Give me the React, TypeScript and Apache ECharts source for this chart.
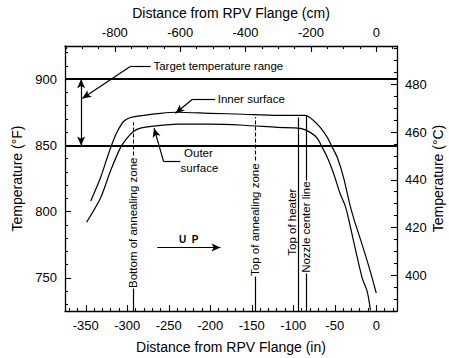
import React, { useEffect, useRef } from 'react';
import * as echarts from 'echarts';

// ---- data ----
const xMinIn = -375;
const xMaxIn = 25;
const yMinF = 725;
const yMaxF = 925;

const inchTicks = [-350, -300, -250, -200, -150, -100, -50, 0];
const cmTicks = [-800, -600, -400, -200, 0];
const fTicks = [750, 800, 850, 900];
const cTicks = [400, 420, 440, 460, 480];

const innerX = [-344, -332, -324, -316.5, -311.5, -304.5, -296, -280, -260, -240, -200, -160, -119, -85.5, -76, -67.5, -59, -53, -47, -39.5, -31.5, -25.5, -19.5, -11, -5, 0];
const innerF = [808, 826, 841, 854, 861, 868, 871, 872.7, 874.2, 875, 874.2, 873.5, 872.7, 872.7, 869, 863.5, 856, 848.5, 841, 826, 804.5, 791.5, 780, 763, 750, 738.5];

const outerX = [-349, -332, -320, -308, -299.5, -292.5, -284, -268, -240, -200, -160, -119, -91.5, -79.5, -71, -65, -59, -51.5, -43.5, -37.5, -33.5, -25.5, -17, -11, -7];
const outerF = [792, 810.5, 831, 848.5, 856, 860.5, 863, 864.5, 866, 866, 865.2, 863.6, 862.9, 859.8, 855.3, 848.5, 841, 829, 813.5, 804.5, 795, 772.7, 750, 740, 725.5];

const targetRange = [850, 900];

const zoneNames = ['Bottom of annealing zone', 'Top of annealing zone', 'Top of heater', 'Nozzle center line'];
const zoneX = [-293, -145.6, -93.9, -84.8];
const zoneTextBaseF = [742.4, 751.5, 766.7, 753.8];
const zoneTextTopF = [842.4, 838.6, null, 823.5];
const zoneLineTopF = [867.5, 871.2, 871.0, 872.7];
const zoneUpperDashed = [true, true, false, false];

const FONT = '"Liberation Sans", Arial, Helvetica, sans-serif';
const BLACK = '#000';

function stepList(from: number, to: number, step: number, skip: number) {
  const out: number[] = [];
  for (let v = from; v <= to + 1e-9; v += step) {
    const r = Math.round(v * 1000) / 1000;
    if (Math.abs(r / skip - Math.round(r / skip)) > 1e-6) out.push(r);
  }
  return out;
}

export default function App() {
  const ref = useRef<HTMLDivElement>(null);
  useEffect(() => {
    document.body.style.margin = '0';
    const chart = echarts.init(ref.current!, null, { renderer: 'svg' });

    const cMin = (yMinF - 32) / 1.8;
    const cMax = (yMaxF - 32) / 1.8;
    const cmMin = xMinIn * 2.54;
    const cmMax = xMaxIn * 2.54;

    const axisLine = { show: true, onZero: false, lineStyle: { color: BLACK, width: 1.3 } };
    const tickStyle = { color: BLACK, width: 1.1 };
    const labelStyle = { color: BLACK, fontSize: 13, fontFamily: FONT };
    const nameStyle = { color: BLACK, fontSize: 14, fontFamily: FONT };

    const mainAxis = (extra: any, ticks: number[], margin: number) => ({
      type: 'value',
      splitLine: { show: false },
      axisLine,
      axisTick: { show: true, inside: true, length: 6, lineStyle: tickStyle, customValues: ticks },
      axisLabel: { ...labelStyle, margin, customValues: ticks },
      nameLocation: 'middle',
      nameTextStyle: nameStyle,
      ...extra,
    });
    const minorAxis = (extra: any, ticks: number[]) => ({
      type: 'value',
      splitLine: { show: false },
      axisLine: { show: false, onZero: false },
      axisLabel: { show: false },
      axisTick: { show: true, inside: true, length: 3, lineStyle: tickStyle, customValues: ticks },
      ...extra,
    });

    const inchMinor = stepList(-370, 20, 10, 50);
    const cmMinor = stepList(-950, 50, 50, 200);
    const fMinor = stepList(730, 920, 10, 50);
    const cMinor = stepList(390, 495, 5, 20);

    const zoneSolid: any[] = [];
    const zoneDashed: any[] = [];
    zoneX.forEach((x, i) => {
      const base = zoneTextBaseF[i];
      const top = zoneTextTopF[i];
      if (top === null) {
        zoneSolid.push([{ coord: [x, yMinF] }, { coord: [x, zoneLineTopF[i]] }]);
      } else {
        zoneSolid.push([{ coord: [x, yMinF] }, { coord: [x, base - 0.5] }]);
        const seg = [{ coord: [x, top] }, { coord: [x, zoneLineTopF[i]] }];
        if (zoneUpperDashed[i]) zoneDashed.push(seg);
        else zoneSolid.push(seg);
      }
    });

    const leaderY = 909.8;
    const arrowSeg = (a: number[], b: number[]) => [
      { coord: a, symbol: 'none' },
      { coord: b, symbol: 'arrow' },
    ];
    const plainSeg = (a: number[], b: number[]) => [
      { coord: a, symbol: 'none' },
      { coord: b, symbol: 'none' },
    ];

    const option: any = {
      animation: false,
      grid: { left: 65, right: 52, top: 46, bottom: 47, containLabel: false, outerBoundsMode: 'none' },
      xAxis: [
        mainAxis({ position: 'bottom', min: xMinIn, max: xMaxIn, name: 'Distance from RPV Flange (in)', nameGap: 29 }, inchTicks, 8),
        mainAxis({ position: 'top', min: cmMin, max: cmMax, name: 'Distance from RPV Flange (cm)', nameGap: 26 }, cmTicks, 7),
        minorAxis({ position: 'bottom', min: xMinIn, max: xMaxIn }, inchMinor),
        minorAxis({ position: 'top', min: cmMin, max: cmMax }, cmMinor),
      ],
      yAxis: [
        mainAxis({ position: 'left', min: yMinF, max: yMaxF, name: 'Temperature (°F)', nameGap: 38, nameRotate: 90 }, fTicks, 8),
        mainAxis({ position: 'right', min: cMin, max: cMax, name: 'Temperature (°C)', nameGap: 34, nameRotate: 90, nameMoveOverlap: false }, cTicks, 8),
        minorAxis({ position: 'left', min: yMinF, max: yMaxF }, fMinor),
        minorAxis({ position: 'right', min: cMin, max: cMax }, cMinor),
      ],
      series: [
        {
          name: 'Inner surface',
          type: 'line',
          data: innerX.map((x, i) => [x, innerF[i]]),
          showSymbol: false,
          symbol: 'none',
          smooth: 0.25,
          lineStyle: { color: BLACK, width: 1.2 },
        },
        {
          name: 'Outer surface',
          type: 'line',
          data: outerX.map((x, i) => [x, outerF[i]]),
          showSymbol: false,
          symbol: 'none',
          smooth: 0.25,
          lineStyle: { color: BLACK, width: 1.2 },
        },
        {
          name: 'target',
          type: 'line',
          data: [],
          markLine: {
            silent: true,
            symbol: 'none',
            label: { show: false },
            lineStyle: { color: BLACK, width: 1.8, type: 'solid' },
            data: targetRange.map((v) => ({ yAxis: v })),
          },
        },
        {
          name: 'leaders',
          type: 'line',
          data: [],
          markLine: {
            silent: true,
            symbolSize: [6, 9],
            label: { show: false },
            lineStyle: { color: BLACK, width: 1.2, type: 'solid' },
            data: [
              [
                { coord: [-355.6, targetRange[0]], symbol: 'arrow' },
                { coord: [-355.6, targetRange[1]], symbol: 'arrow' },
              ],
              plainSeg([-272, leaderY], [-296, leaderY]),
              arrowSeg([-296, leaderY], [-354.2, 885.4]),
              plainSeg([-194, 884.8], [-221.4, 884.8]),
              arrowSeg([-221.4, 884.8], [-241.9, 874.3]),
              plainSeg([-236, 837.9], [-256.3, 837.9]),
              arrowSeg([-256.3, 837.9], [-267.7, 863.0]),
              arrowSeg([-263.9, 773.0], [-187.7, 773.0]),
            ],
          },
        },
        {
          name: 'zones',
          type: 'line',
          data: [],
          markLine: {
            silent: true,
            symbol: 'none',
            label: { show: false },
            lineStyle: { color: BLACK, width: 1.2, type: 'solid' },
            data: zoneSolid,
          },
        },
        {
          name: 'zonesDashed',
          type: 'line',
          data: [],
          markLine: {
            silent: true,
            symbol: 'none',
            label: { show: false },
            lineStyle: { color: BLACK, width: 1.1, type: [4, 2] },
            data: zoneDashed,
          },
        },
      ],
    };
    chart.setOption(option);

    const px = (x: number, y: number) =>
      chart.convertToPixel({ xAxisIndex: 0, yAxisIndex: 0 } as any, [x, y]) as number[];
    const txt = (p: number[], text: string, extra: any = {}, rot = 0) => ({
      type: 'text',
      x: p[0],
      y: p[1],
      rotation: rot,
      silent: true,
      style: {
        text,
        fill: BLACK,
        fontSize: 11.5,
        fontFamily: FONT,
        align: 'left',
        verticalAlign: 'middle',
        ...extra,
      },
    });

    const graphics: any[] = [];
    graphics.push(txt(px(-268.4, leaderY), 'Target temperature range'));
    graphics.push(txt(px(-191, 884.8), 'Inner surface'));
    graphics.push(txt(px(-214.2, 843.9), 'Outer', { align: 'center' }));
    graphics.push(txt(px(-213, 832.6), 'surface', { align: 'center' }));
    graphics.push(txt(px(-225.9, 779.3), 'U  P', { align: 'center', fontWeight: 'bold', fontSize: 10 }));
    zoneX.forEach((x, i) => {
      const p = px(x, zoneTextBaseF[i]);
      const shift = zoneTextTopF[i] === null ? -6 : 0;
      graphics.push(txt([p[0] + shift, p[1]], zoneNames[i], {}, Math.PI / 2));
    });
    chart.setOption({ graphic: graphics });

    return () => chart.dispose();
  }, []);
  return <div ref={ref} style={{ width: 449, height: 358 }} />;
}
